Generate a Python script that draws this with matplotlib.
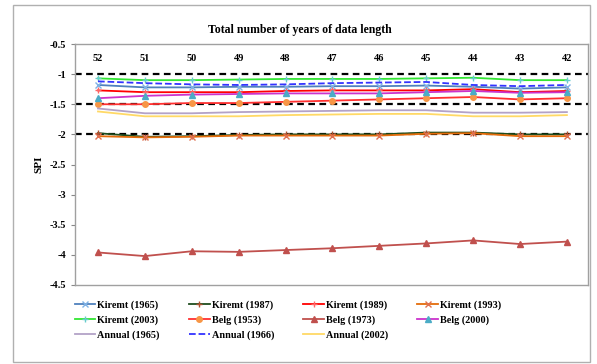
import matplotlib
matplotlib.use("Agg")
import matplotlib.pyplot as plt
from matplotlib.patches import Rectangle

years = [52, 51, 50, 49, 48, 47, 46, 45, 44, 43, 42]

kiremt_1965 = [-1.18, -1.22, -1.22, -1.21, -1.21, -1.20, -1.20, -1.19, -1.21, -1.24, -1.22]
kiremt_1987 = [-1.98, -2.04, -2.03, -2.01, -2.00, -2.00, -2.00, -1.97, -1.97, -2.00, -2.00]
kiremt_1989 = [-1.27, -1.30, -1.30, -1.30, -1.28, -1.27, -1.27, -1.27, -1.25, -1.30, -1.28]
kiremt_1993 = [-2.03, -2.05, -2.04, -2.02, -2.02, -2.02, -2.02, -1.99, -1.98, -2.03, -2.03]
kiremt_2003 = [-1.07, -1.10, -1.10, -1.09, -1.08, -1.08, -1.08, -1.07, -1.06, -1.10, -1.10]
belg_1953 = [-1.50, -1.50, -1.48, -1.48, -1.46, -1.44, -1.42, -1.40, -1.38, -1.42, -1.40]
belg_1973 = [-3.96, -4.02, -3.94, -3.95, -3.92, -3.89, -3.85, -3.81, -3.76, -3.82, -3.78]
belg_2000 = [-1.40, -1.36, -1.34, -1.33, -1.32, -1.32, -1.32, -1.30, -1.28, -1.31, -1.30]
annual_1965 = [-1.57, -1.65, -1.65, -1.63, -1.62, -1.61, -1.60, -1.60, -1.64, -1.64, -1.63]
annual_1966 = [-1.12, -1.15, -1.17, -1.18, -1.17, -1.15, -1.14, -1.13, -1.18, -1.20, -1.18]
annual_2002 = [-1.62, -1.70, -1.70, -1.70, -1.68, -1.67, -1.66, -1.66, -1.70, -1.70, -1.68]

ref_lines = [-1.0, -1.5, -2.0]
yticks = [-0.5, -1, -1.5, -2, -2.5, -3, -3.5, -4, -4.5]
ytick_labels = ["-0.5", "-1", "-1.5", "-2", "-2.5", "-3", "-3.5", "-4", "-4.5"]

series = [
    ("Kiremt (1965)", kiremt_1965, dict(color="#4F81BD", marker="x", mec="#7FB2E5", ls="-")),
    ("Kiremt (1987)", kiremt_1987, dict(color="#1E4D1E", marker="+", mec="#B05030", ls="-")),
    ("Kiremt (1989)", kiremt_1989, dict(color="#FF0000", marker="+", mec="#FF6666", ls="-")),
    ("Kiremt (1993)", kiremt_1993, dict(color="#E46C0A", marker="x", mec="#E07050", ls="-")),
    ("Kiremt (2003)", kiremt_2003, dict(color="#33E633", marker="+", mec="#66CCCC", ls="-")),
    ("Belg (1953)", belg_1953, dict(color="#FF3030", marker="o", mec="#F79646", mfc="#F79646", ls="-")),
    ("Belg (1973)", belg_1973, dict(color="#C0504D", marker="^", mec="#C0504D", mfc="#C0504D", ls="-")),
    ("Belg (2000)", belg_2000, dict(color="#CC33CC", marker="^", mec="#4BACC6", mfc="#4BACC6", ls="-")),
    ("Annual (1965)", annual_1965, dict(color="#B3A2C7", marker=None, ls="-")),
    ("Annual (1966)", annual_1966, dict(color="#3333FF", marker=None, ls="--")),
    ("Annual (2002)", annual_2002, dict(color="#FFD966", marker=None, ls="-")),
]

plt.rcParams["font.family"] = ["Liberation Serif", "DejaVu Serif"]
plt.rcParams["font.weight"] = "bold"

fig = plt.figure(figsize=(5.97, 3.64), dpi=100)
fig.patches.append(Rectangle((13 / 597, 2 / 364), 577 / 597, 357 / 364, transform=fig.transFigure,
                             fill=False, edgecolor="#B0B0B0", lw=1.0))
ax = fig.add_axes([75 / 597, 1 - 285 / 364, 513 / 597, 241 / 364])

x = list(range(len(years)))
for yv in ref_lines:
    ax.axhline(yv, color="black", ls=(0, (3, 2)), lw=1.6, zorder=1)

handles = []
for name, vals, st in series:
    kw = dict(st)
    color = kw.pop("color")
    h, = ax.plot(x, vals, color=color, lw=1.3, ms=4, mew=1.0, label=name, zorder=3, **kw)
    handles.append(h)

ax.set_xlim(-0.49, 10.45)
ax.set_ylim(-4.5, -0.5)
ax.set_xticks(x)
ax.set_xticklabels([str(v) for v in years], fontsize=7.5, fontweight="bold")
ax.tick_params(axis="x", top=True, labeltop=True, bottom=False, labelbottom=False,
               length=0, pad=-14)
ax.set_yticks(yticks)
ax.set_yticklabels(ytick_labels, fontsize=7.5, fontweight="bold")
ax.tick_params(axis="y", length=3, direction="out", color="#888888")
for s in ax.spines.values():
    s.set_color("#A0A0A0")
    s.set_linewidth(1.0)

ax.set_ylabel("SPI", fontsize=8, fontweight="bold", labelpad=4)
fig.text(300 / 597, 1 - 30 / 364, "Total number of years of data length", ha="center", va="center",
         fontsize=8.5, fontweight="bold")

# column-major order so rows read like the reference
order = [0, 4, 8, 1, 5, 9, 2, 6, 10, 3, 7]
leg_handles = [handles[i] for i in order]
fig.legend(handles=leg_handles, loc="center", bbox_to_anchor=(288 / 597, 1 - 320 / 364), ncol=4,
           frameon=False, handlelength=2.0, handletextpad=0.2, columnspacing=2.9,
           labelspacing=0.55, prop={"weight": "bold", "size": 7.3})

fig.savefig("out.png", dpi=100)
